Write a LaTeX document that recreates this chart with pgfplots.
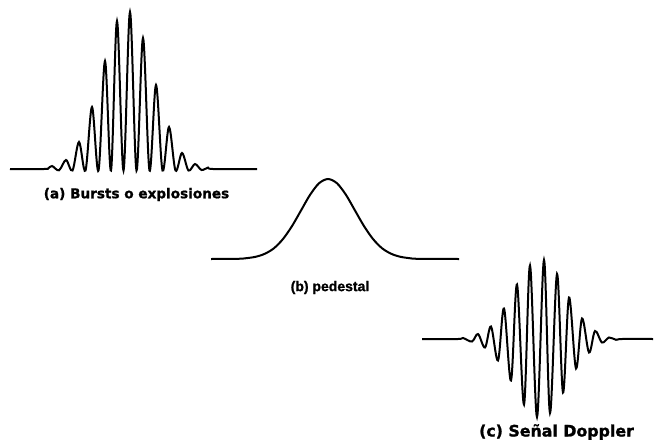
\documentclass[border=0pt]{standalone}
\usepackage{fontspec}
\setmainfont{DejaVu Sans}
\newfontfamily\heavy[FakeBold=1.2]{DejaVu Sans Bold}
\newfontfamily\heavyb[FakeBold=1.2]{Liberation Sans Bold}
\usepackage{pgfplots}
\pgfplotsset{compat=1.18}
\begin{document}
\begin{tikzpicture}
\path[use as bounding box] (0,0) rectangle (654bp,443bp);
\begin{axis}[
  at={(0,0)}, anchor=south west,
  width=654bp, height=443bp, scale only axis,
  xmin=0, xmax=654, ymin=0, ymax=443, y dir=reverse,
  hide axis, clip=false,
]
% (a) burst
\addplot[black, line width=2bp, smooth, tension=0.55] coordinates {
(10,169) (44,169) (48,168.6) (52,166) (59,170.3) (66,160) (72.5,170.5) (79,142) (85.5,170.5)
(92,107) (98.5,170.5) (105,61) (111,170.5) (117,21) (123.5,170.5) (130,12) (136.5,170.5)
(143,38) (149.5,170.5) (156,85) (162.5,170.5) (169,127) (175.5,170.5) (182,153) (188.5,170.5)
(195,164) (201.5,170) (208,167.6) (213,169) (257,169)
};
% (b) pedestal
\addplot[black, line width=2bp, smooth, tension=0.5] coordinates {
(211,259) (238,258.8) (247,258.1) (256,256.7) (265,253.7) (274,248.2) (283,239.0) (292,226.1)
(301,210.5) (310,194.9) (319,183.3) (328,179) (337,183.3) (346,194.9) (355,210.5) (364,226.1)
(373,239.0) (382,248.2) (391,253.7) (400,256.7) (409,258.1) (418,258.8) (459,259)
};
% (c) Doppler
\addplot[black, line width=2bp, smooth, tension=0.55] coordinates {
(422,339) (458,339) (463,338) (472,341.5) (478,334) (485,347.5) (491,326.5) (498,360.5)
(504,308.5) (511,380.5) (517,284.5) (524,404.5) (530,265.5) (537,417) (544,260) (550,413)
(557,274) (563,392.5) (569,297.5) (576,368.5) (582,318.5) (589,352.5) (595,331) (602,342.5)
(609,337.5) (616,339.8) (622,339) (653,339)
};
\node[font=\fontsize{13.6bp}{16bp}\heavy] at (axis cs:136.5,194.5) {(a) Bursts o explosiones};
\node[font=\fontsize{14bp}{16bp}\heavyb] at (axis cs:330,287.5) {(b) pedestal};
\node[font=\fontsize{15.8bp}{19bp}\heavy] at (axis cs:556.5,432) {(c) Señal Doppler};
\end{axis}
\end{tikzpicture}
\end{document}
